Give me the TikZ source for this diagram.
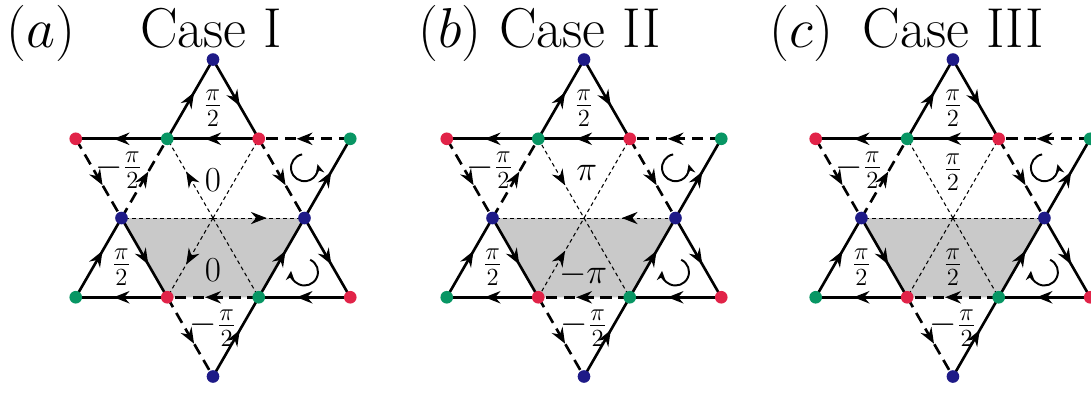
\RequirePackage{fix-cm}
\documentclass[tikz,border=0pt]{standalone}
\usetikzlibrary{arrows.meta,decorations.markings}
\definecolor{kblue}{RGB}{30,26,135}
\definecolor{kred}{RGB}{225,35,72}
\definecolor{kgreen}{RGB}{8,150,100}
\definecolor{kshade}{RGB}{201,201,201}
\tikzset{
  tipst/.tip={Stealth[length=9pt,width=7pt,inset=3pt]},
  marr/.style={postaction={decorate,decoration={markings,mark=at position 0.5 with {\pgftransformxshift{4.5pt}\arrow{tipst}}}}},
  bond/.style={line width=1.5pt},
  dbond/.style={line width=1.5pt,dash pattern=on 6.5pt off 3.8pt},
  thinb/.style={line width=0.6pt,dash pattern=on 2.2pt off 1.8pt},
  kdot/.style={circle,inner sep=0pt,minimum size=7.2pt},
  lab/.style={font=\fontsize{20}{24}\selectfont, inner sep=0pt},
  ttl/.style={font=\fontsize{32}{38}\selectfont, inner sep=0pt, anchor=base},
  rot/.style={line width=1.1pt,-{Stealth[length=5.5pt,width=5pt,inset=1.8pt]}},
}
% #1 prefix, #2 x offset
\newcommand{\kagomebase}[2]{%
 \begin{scope}[shift={(#2,0)}]
  \coordinate (#1T) at (0,1.7321);
  \coordinate (#1U1) at (-1.5,0.8660);
  \coordinate (#1U2) at (-0.5,0.8660);
  \coordinate (#1U3) at (0.5,0.8660);
  \coordinate (#1U4) at (1.5,0.8660);
  \coordinate (#1M1) at (-1,0);
  \coordinate (#1O) at (0,0);
  \coordinate (#1M2) at (1,0);
  \coordinate (#1L1) at (-1.5,-0.8660);
  \coordinate (#1L2) at (-0.5,-0.8660);
  \coordinate (#1L3) at (0.5,-0.8660);
  \coordinate (#1L4) at (1.5,-0.8660);
  \coordinate (#1B) at (0,-1.7321);
  \fill[kshade] (#1M1) -- (#1M2) -- (#1L3) -- (#1L2) -- cycle;
 \end{scope}}
\newcommand{\kagomeedges}[2]{%
 \begin{scope}[shift={(#2,0)}]
  \draw[bond,marr] (#1U2) -- (#1T);
  \draw[bond,marr] (#1T) -- (#1U3);
  \draw[dbond,marr] (#1M1) -- (#1U2);
  \draw[dbond,marr] (#1U3) -- (#1M2);
  \draw[bond,marr] (#1L1) -- (#1M1);
  \draw[bond,marr] (#1M2) -- (#1L4);
  \draw[bond,marr] (#1L4) -- (#1L3);
  \draw[dbond,marr] (#1L3) -- (#1L2);
  \draw[bond,marr] (#1L2) -- (#1L1);
  \draw[dbond,marr] (#1U4) -- (#1U3);
  \draw[bond,marr] (#1U3) -- (#1U2);
  \draw[bond,marr] (#1U2) -- (#1U1);
  \draw[dbond,marr] (#1U1) -- (#1M1);
  \draw[bond,marr] (#1M1) -- (#1L2);
  \draw[dbond,marr] (#1L2) -- (#1B);
  \draw[bond,marr] (#1B) -- (#1L3);
  \draw[bond,marr] (#1L3) -- (#1M2);
  \draw[bond,marr] (#1M2) -- (#1U4);
  \node[kdot,fill=kblue] (#1Td) at (#1T) {};
  \node[kdot,fill=kred] (#1U1d) at (#1U1) {};
  \node[kdot,fill=kgreen] (#1U2d) at (#1U2) {};
  \node[kdot,fill=kred] (#1U3d) at (#1U3) {};
  \node[kdot,fill=kgreen] (#1U4d) at (#1U4) {};
  \node[kdot,fill=kblue] (#1M1d) at (#1M1) {};
  \node[kdot,fill=kblue] (#1M2d) at (#1M2) {};
  \node[kdot,fill=kgreen] (#1L1d) at (#1L1) {};
  \node[kdot,fill=kred] (#1L2d) at (#1L2) {};
  \node[kdot,fill=kgreen] (#1L3d) at (#1L3) {};
  \node[kdot,fill=kred] (#1L4d) at (#1L4) {};
  \node[kdot,fill=kblue] (#1Bd) at (#1B) {};
  \node[lab] (#1lt) at (0,1.2) {$\frac{\pi}{2}$};
  \node[lab] (#1lul) at (-1.03,0.525) {$-\frac{\pi}{2}$};
  \node[lab] (#1lll) at (-1.0,-0.535) {$\frac{\pi}{2}$};
  \node[lab] (#1lb) at (0,-1.2) {$-\frac{\pi}{2}$};
  \draw[rot] (1.0,0.55) ++(100:0.27cm) arc[start angle=100,end angle=375,radius=0.27cm];
  \draw[rot] (1.0,-0.59) ++(65:0.27cm) arc[start angle=65,end angle=-185,radius=0.27cm];
 \end{scope}}
\begin{document}
\begin{tikzpicture}[x=1.83cm,y=1.83cm]
\useasboundingbox (-2.328,-1.902) rectangle (9.596,2.383);
% panel (a)
\kagomebase{a}{0}
\draw[thinb] (aO) -- (aU3);
\draw[thinb] (aO) -- (aL3);
\draw[thinb] (aO) -- (aM1);
\draw[thinb,marr] (aO) -- (aU2);
\draw[thinb,marr] (aO) -- (aL2);
\draw[thinb,marr] (aO) -- (aM2);
\kagomeedges{a}{0}
\node[lab] (alc) at (0,0.415) {$0$};
\node[lab] (alm) at (0,-0.57) {$0$};
% panel (b)
\kagomebase{b}{4.055}
\draw[thinb] (bO) -- (bU3);
\draw[thinb] (bO) -- (bL3);
\draw[thinb] (bO) -- (bM1);
\draw[thinb,marr] (bU2) -- (bO);
\draw[thinb,marr] (bL2) -- (bO);
\draw[thinb,marr] (bM2) -- (bO);
\kagomeedges{b}{4.055}
\node[lab] (blc) at (4.085,0.49) {$\pi$};
\node[lab] (blm) at (4.045,-0.62) {$-\pi$};
% panel (c)
\kagomebase{c}{8.087}
\draw[thinb] (cO) -- (cU3);
\draw[thinb] (cO) -- (cL3);
\draw[thinb] (cO) -- (cM1);
\draw[thinb] (cO) -- (cU2);
\draw[thinb] (cO) -- (cL2);
\draw[thinb] (cO) -- (cM2);
\kagomeedges{c}{8.087}
\node[lab] (clc) at (8.087,0.5) {$\frac{\pi}{2}$};
\node[lab] (clm) at (8.087,-0.535) {$\frac{\pi}{2}$};
% titles
\node[ttl] (ta) at (-1.88,1.869) {$(a)$};
\node[ttl] (tca) at (-0.02,1.869) {Case I};
\node[ttl] (tb) at (2.59,1.869) {$(b)$};
\node[ttl] (tcb) at (4.01,1.869) {Case II};
\node[ttl] (tc) at (6.43,1.869) {$(c)$};
\node[ttl] (tcc) at (8.093,1.869) {Case III};
\end{tikzpicture}
\end{document}
